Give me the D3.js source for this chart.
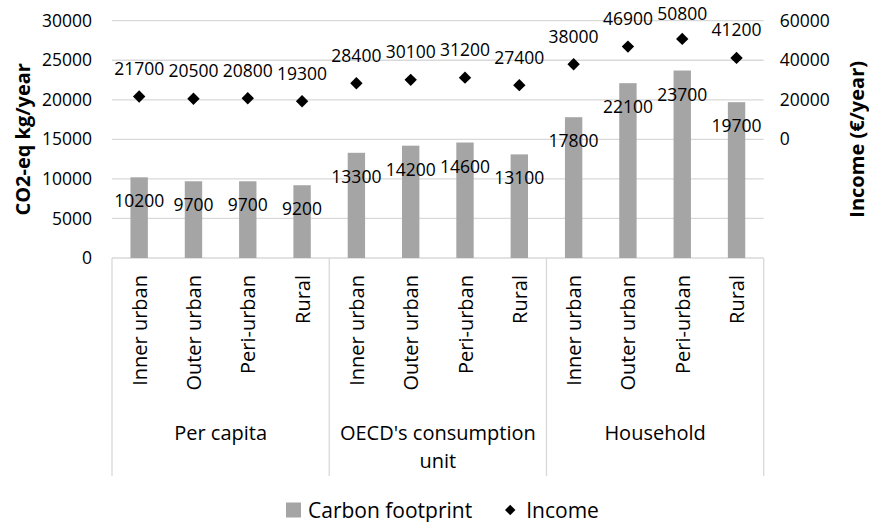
<!DOCTYPE html>
<html>
<head>
<meta charset="utf-8">
<script src="https://cdn.jsdelivr.net/npm/d3@7"></script>
<style>
  body { margin: 0; background: #fff; }
  text { font-family: "Open Sans", sans-serif; fill: #000; }
</style>
</head>
<body>
<div id="chart"></div>
<script>
// data
const groups = ["Per capita", "OECD's consumption unit", "Household"];
const areas = ["Inner urban", "Outer urban", "Peri-urban", "Rural"];
const footprint = [10200, 9700, 9700, 9200, 13300, 14200, 14600, 13100, 17800, 22100, 23700, 19700];
const income = [21700, 20500, 20800, 19300, 28400, 30100, 31200, 27400, 38000, 46900, 50800, 41200];
const leftTicks = [0, 5000, 10000, 15000, 20000, 25000, 30000];
const rightTicks = [0, 20000, 40000, 60000];

const width = 869, height = 522;
const margin = {top: 20.7, right: 105.3, bottom: 264, left: 112};
const plotW = width - margin.left - margin.right;
const plotH = height - margin.top - margin.bottom;

// one row per bar
const rows = footprint.map((v, i) => ({
  key: i,
  group: groups[Math.floor(i / areas.length)],
  area: areas[i % areas.length],
  footprint: v,
  income: income[i]
}));

const svg = d3.select('#chart').append('svg')
  .attr('width', width)
  .attr('height', height);

const chart = svg.append('g')
  .attr('transform', `translate(${margin.left},${margin.top})`);

const x = d3.scaleBand(rows.map(d => d.key), [0, plotW]).padding(0);
const xGroup = d3.scaleBand(groups, [0, plotW]).padding(0);
const y = d3.scaleLinear([0, 30000], [plotH, 0]);
const y2 = d3.scaleLinear([-60000, 60000], [plotH, 0]);

const grid = '#d9d9d9';

// gridlines
chart.append('g')
  .selectAll('line')
  .data(leftTicks)
  .join('line')
  .attr('x1', 0).attr('x2', plotW)
  .attr('y1', d => y(d)).attr('y2', d => y(d))
  .attr('stroke', grid).attr('stroke-width', 1.3);

// left axis labels
const axisL = chart.append('g')
  .call(d3.axisLeft(y).tickValues(leftTicks).tickSize(0).tickPadding(20).tickFormat(d3.format('d')));
axisL.select('.domain').remove();
axisL.selectAll('text').style('font-size', '17.5px').style('font-family', '"Open Sans", sans-serif');

// right axis labels
const axisR = chart.append('g')
  .attr('transform', `translate(${plotW},0)`)
  .call(d3.axisRight(y2).tickValues(rightTicks).tickSize(0).tickPadding(16).tickFormat(d3.format('d')));
axisR.select('.domain').remove();
axisR.selectAll('text').style('font-size', '17.5px').style('font-family', '"Open Sans", sans-serif');

// category axis: separators
const sepBottom = 218;
const seps = groups.map(g => xGroup(g)).concat([plotW]);
chart.append('g')
  .selectAll('line')
  .data(seps)
  .join('line')
  .attr('x1', d => d).attr('x2', d => d)
  .attr('y1', plotH).attr('y2', plotH + sepBottom)
  .attr('stroke', grid).attr('stroke-width', 1.3);

// bars
const barW = x.bandwidth() * 0.32;
chart.append('g')
  .selectAll('rect.bar')
  .data(rows)
  .join('rect')
  .classed('bar', true)
  .attr('x', d => x(d.key) + (x.bandwidth() - barW) / 2)
  .attr('y', d => y(d.footprint))
  .attr('width', barW)
  .attr('height', d => plotH - y(d.footprint))
  .attr('fill', '#a5a5a5');

// bar labels (inside end)
chart.append('g')
  .selectAll('text')
  .data(rows)
  .join('text')
  .attr('x', d => x(d.key) + x.bandwidth() / 2)
  .attr('y', d => y(d.footprint) + 30)
  .attr('text-anchor', 'middle')
  .style('font-size', '17.5px')
  .text(d => d.footprint);

// income markers
const diamond = (cx, cy, r) => `M${cx},${cy - r}L${cx + r},${cy}L${cx},${cy + r}L${cx - r},${cy}Z`;
chart.append('g')
  .selectAll('path')
  .data(rows)
  .join('path')
  .attr('d', d => diamond(x(d.key) + x.bandwidth() / 2, y2(d.income), 6.2))
  .attr('fill', '#000');

chart.append('g')
  .selectAll('text')
  .data(rows)
  .join('text')
  .attr('x', d => x(d.key) + x.bandwidth() / 2)
  .attr('y', d => Math.max(-1, y2(d.income) - 21.5))
  .attr('text-anchor', 'middle')
  .style('font-size', '17.5px')
  .text(d => d.income);

// area labels, rotated
chart.append('g')
  .selectAll('text')
  .data(rows)
  .join('text')
  .attr('transform', d => `translate(${x(d.key) + x.bandwidth() / 2 + 7.5},${plotH + 17}) rotate(-90)`)
  .attr('text-anchor', 'end')
  .style('font-size', '20px')
  .text(d => d.area);

// group labels, wrapped to group width
const gLabels = chart.append('g')
  .selectAll('text')
  .data(groups)
  .join('text')
  .attr('text-anchor', 'middle')
  .attr('x', d => xGroup(d) + xGroup.bandwidth() / 2)
  .attr('y', plotH + 182)
  .style('font-size', '20px');

gLabels.each(function(d) {
  const t = d3.select(this);
  const words = d.split(' ');
  const cx = xGroup(d) + xGroup.bandwidth() / 2;
  let line = [];
  let tspan = t.append('tspan').attr('x', cx).attr('dy', 0);
  words.forEach(w => {
    line.push(w);
    tspan.text(line.join(' '));
    if (tspan.node().getComputedTextLength() > xGroup.bandwidth() - 2 && line.length > 1) {
      line.pop();
      tspan.text(line.join(' '));
      line = [w];
      tspan = t.append('tspan').attr('x', cx).attr('dy', 28).text(w);
    }
  });
});

// axis titles
svg.append('text')
  .attr('transform', `translate(30,${margin.top + plotH / 2}) rotate(-90)`)
  .attr('text-anchor', 'middle')
  .style('font-size', '20px')
  .style('font-weight', 'bold')
  .text('CO2-eq kg/year');

svg.append('text')
  .attr('transform', `translate(864,${margin.top + plotH / 2}) rotate(-90)`)
  .attr('text-anchor', 'middle')
  .style('font-size', '20px')
  .style('font-weight', 'bold')
  .text('Income (€/year)');

// legend
const legend = svg.append('g').attr('transform', 'translate(286,510)');
legend.append('rect')
  .attr('x', 0).attr('y', -7.5)
  .attr('width', 15).attr('height', 15)
  .attr('fill', '#a5a5a5');
const l1 = legend.append('text')
  .attr('x', 22).attr('y', 7.5)
  .style('font-size', '21px')
  .text('Carbon footprint');
const l1end = 22 + l1.node().getComputedTextLength();
legend.append('path')
  .attr('d', diamond(l1end + 38, 0, 5.2))
  .attr('fill', '#000');
legend.append('text')
  .attr('x', l1end + 54).attr('y', 7.5)
  .style('font-size', '21px')
  .text('Income');
</script>
</body>
</html>
